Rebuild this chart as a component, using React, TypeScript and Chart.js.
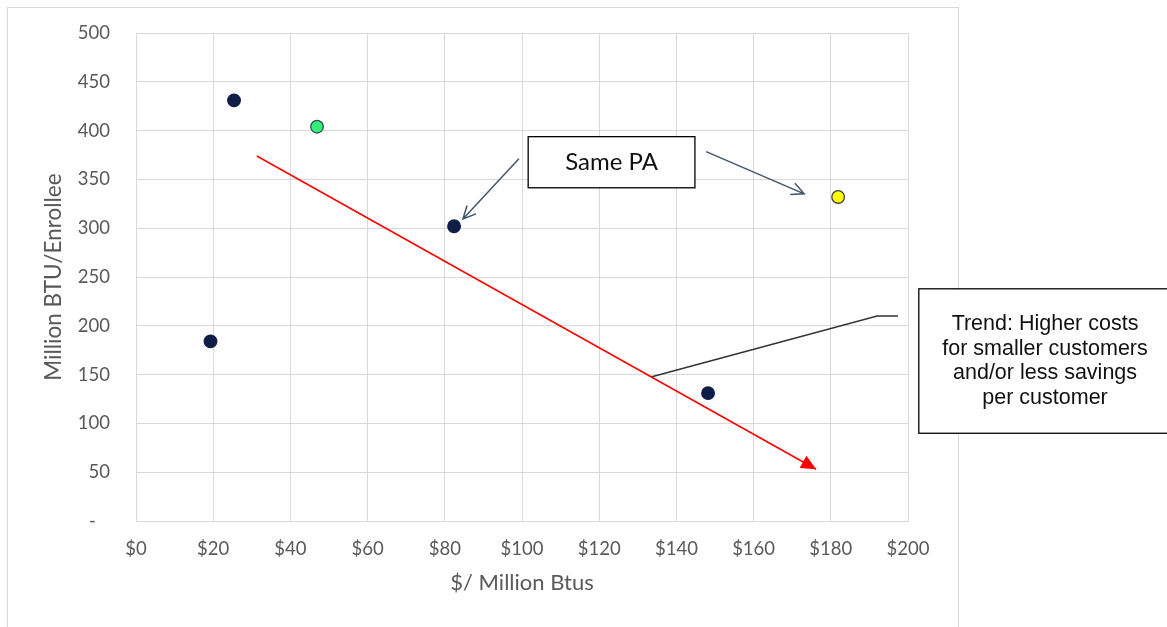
import React, { useEffect, useRef } from "react";
import { Chart, registerables } from "chart.js";

Chart.register(...registerables);

// ---- data ----
const costPerMBtu = [19.3, 25.4, 46.9, 82.4, 148.2, 181.9];
const btuPerEnrollee = [184, 431, 404, 302, 131, 332];
const pointFill = ["#0E1E47", "#0E1E47", "#36EE78", "#0E1E47", "#0E1E47", "#FFFF00"];
const pointBorder = ["#0E1E47", "#0E1E47", "#2F4B5C", "#0E1E47", "#0E1E47", "#404040"];

const trendX = [31.3, 176.2];
const trendY = [374, 53];

const calloutX = [133.4, 192, 197.4];
const calloutY = [147.5, 210, 210];

const xTicks = [0, 20, 40, 60, 80, 100, 120, 140, 160, 180, 200];
const yTicks = [0, 50, 100, 150, 200, 250, 300, 350, 400, 450, 500];

const samePABox = { x1: 101.6, x2: 144.8, y1: 393.8, y2: 341.4, text: "Same PA" };
const samePAArrows = [
  { fx: 99.2, fy: 371.2, tx: 84.7, ty: 309.5 },
  { fx: 147.7, fy: 378.4, tx: 173.1, ty: 335.2 },
];
const trendBox = {
  x1: 202.8, x2: 275, y1: 237.9, y2: 89.9, cx: 235.5,
  lines: ["Trend: Higher costs", "for smaller customers", "and/or less savings", "per customer"],
};

const GRID = "#d9d9d9";
const TEXT = "#595959";

const annotationPlugin = {
  id: "annotations",
  beforeDraw(chart: any) {
    const ctx = chart.ctx;
    ctx.save();
    ctx.fillStyle = "#ffffff";
    ctx.fillRect(0, 0, chart.width, chart.height);
    ctx.strokeStyle = GRID;
    ctx.lineWidth = 1;
    ctx.strokeRect(7.5, 7.5, 951, 700);
    ctx.restore();
  },
  afterDatasetsDraw(chart: any) {
    const ctx = chart.ctx;
    const xs = chart.scales.x;
    const ys = chart.scales.y;
    const px = (v: number) => xs.getPixelForValue(v);
    const py = (v: number) => ys.getPixelForValue(v);
    ctx.save();

    // red arrowhead at end of trend line
    const meta = chart.getDatasetMeta(0);
    const p0 = meta.data[0];
    const p1 = meta.data[meta.data.length - 1];
    const ang = Math.atan2(p1.y - p0.y, p1.x - p0.x);
    const L = 15, W = 7;
    ctx.fillStyle = "#FF0000";
    ctx.beginPath();
    ctx.moveTo(p1.x, p1.y);
    ctx.lineTo(p1.x - L * Math.cos(ang) + W * Math.sin(ang), p1.y - L * Math.sin(ang) - W * Math.cos(ang));
    ctx.lineTo(p1.x - L * Math.cos(ang) - W * Math.sin(ang), p1.y - L * Math.sin(ang) + W * Math.cos(ang));
    ctx.closePath();
    ctx.fill();

    // Same PA arrows (open heads)
    ctx.strokeStyle = "#44546A";
    ctx.lineWidth = 1.5;
    for (const a of samePAArrows) {
      const fx = px(a.fx), fy = py(a.fy), tx = px(a.tx), ty = py(a.ty);
      const an = Math.atan2(ty - fy, tx - fx);
      ctx.beginPath();
      ctx.moveTo(fx, fy);
      ctx.lineTo(tx, ty);
      const h = 14, sp = 0.45;
      ctx.moveTo(tx - h * Math.cos(an - sp), ty - h * Math.sin(an - sp));
      ctx.lineTo(tx, ty);
      ctx.lineTo(tx - h * Math.cos(an + sp), ty - h * Math.sin(an + sp));
      ctx.stroke();
    }

    // Same PA box
    {
      const x1 = px(samePABox.x1), x2 = px(samePABox.x2), y1 = py(samePABox.y1), y2 = py(samePABox.y2);
      ctx.fillStyle = "#ffffff";
      ctx.fillRect(x1, y1, x2 - x1, y2 - y1);
      ctx.strokeStyle = "#000000";
      ctx.lineWidth = 1.3;
      ctx.strokeRect(x1, y1, x2 - x1, y2 - y1);
      ctx.fillStyle = "#111111";
      ctx.font = "24px Lato";
      ctx.textAlign = "center";
      ctx.textBaseline = "middle";
      ctx.fillText(samePABox.text, (x1 + x2) / 2, (y1 + y2) / 2);
    }

    // Trend box
    {
      const x1 = px(trendBox.x1), x2 = px(trendBox.x2), y1 = py(trendBox.y1), y2 = py(trendBox.y2);
      ctx.fillStyle = "#ffffff";
      ctx.fillRect(x1, y1, x2 - x1, y2 - y1);
      ctx.strokeStyle = "#000000";
      ctx.lineWidth = 1.3;
      ctx.strokeRect(x1, y1, x2 - x1, y2 - y1);
      ctx.fillStyle = "#111111";
      ctx.font = "21.5px 'Liberation Sans', Arial";
      ctx.textAlign = "center";
      ctx.textBaseline = "alphabetic";
      const cx = px(trendBox.cx);
      const lh = 24.7;
      const first = (y1 + y2) / 2 - (lh * (trendBox.lines.length - 1)) / 2 + 6;
      trendBox.lines.forEach((t, i) => ctx.fillText(t, cx, first + i * lh));
    }
    ctx.restore();
  },
};

export default function App() {
  const ref = useRef<HTMLCanvasElement | null>(null);
  useEffect(() => {
    document.body.style.margin = "0";
    const canvas = ref.current!;
    const chart = new Chart(canvas, {
      type: "scatter",
      data: {
        datasets: [
          {
            type: "line",
            data: trendX.map((x, i) => ({ x, y: trendY[i] })),
            borderColor: "#FF0000",
            borderWidth: 1.5,
            pointRadius: 0,
            fill: false,
          } as any,
          {
            type: "line",
            data: calloutX.map((x, i) => ({ x, y: calloutY[i] })),
            borderColor: "#333333",
            borderWidth: 1.5,
            pointRadius: 0,
            fill: false,
          } as any,
          {
            data: costPerMBtu.map((x, i) => ({ x, y: btuPerEnrollee[i] })),
            backgroundColor: pointFill,
            borderColor: pointBorder,
            borderWidth: 1.3,
            pointRadius: 6.3,
          },
        ],
      },
      options: {
        animation: false,
        responsive: false,
        devicePixelRatio: 1,
        layout: { padding: { left: 0, top: 33, right: 1167 - 908, bottom: 0 } },
        plugins: { legend: { display: false }, tooltip: { enabled: false } },
        scales: {
          x: {
            type: "linear",
            min: 0,
            max: 200,
            afterBuildTicks: (s: any) => { s.ticks = xTicks.map((v) => ({ value: v })); },
            afterFit: (s: any) => { s.height = 106; },
            grid: { color: GRID, drawTicks: false },
            border: { color: GRID },
            ticks: {
              padding: 17,
              color: TEXT,
              font: { family: "Lato", size: 18.5 },
              callback: (v: any) => "$" + v,
            },
            title: {
              display: true,
              text: "$/ Million Btus",
              color: TEXT,
              font: { family: "Lato", size: 22 },
              padding: { top: 0, bottom: 31 },
            },
          },
          y: {
            type: "linear",
            min: 0,
            max: 500,
            afterBuildTicks: (s: any) => { s.ticks = yTicks.map((v) => ({ value: v })); },
            afterFit: (s: any) => { s.width = 136; s.paddingTop = 0; s.paddingBottom = 0; },
            grid: { color: GRID, drawTicks: false },
            border: { color: GRID },
            ticks: {
              padding: 26,
              color: TEXT,
              font: { family: "Lato", size: 18.5 },
              callback: (v: any) => (v === 0 ? "-   " : String(v)),
            },
            title: {
              display: true,
              text: "Million BTU/Enrollee",
              color: TEXT,
              font: { family: "Lato", size: 22.5 },
              padding: { top: 40, bottom: 0 },
            },
          },
        },
      },
      plugins: [annotationPlugin],
    } as any);
    return () => chart.destroy();
  }, []);
  return (
    <div style={{ width: 1167, height: 627 }}>
      <canvas ref={ref} width={1167} height={627} style={{ display: "block" }} />
    </div>
  );
}
